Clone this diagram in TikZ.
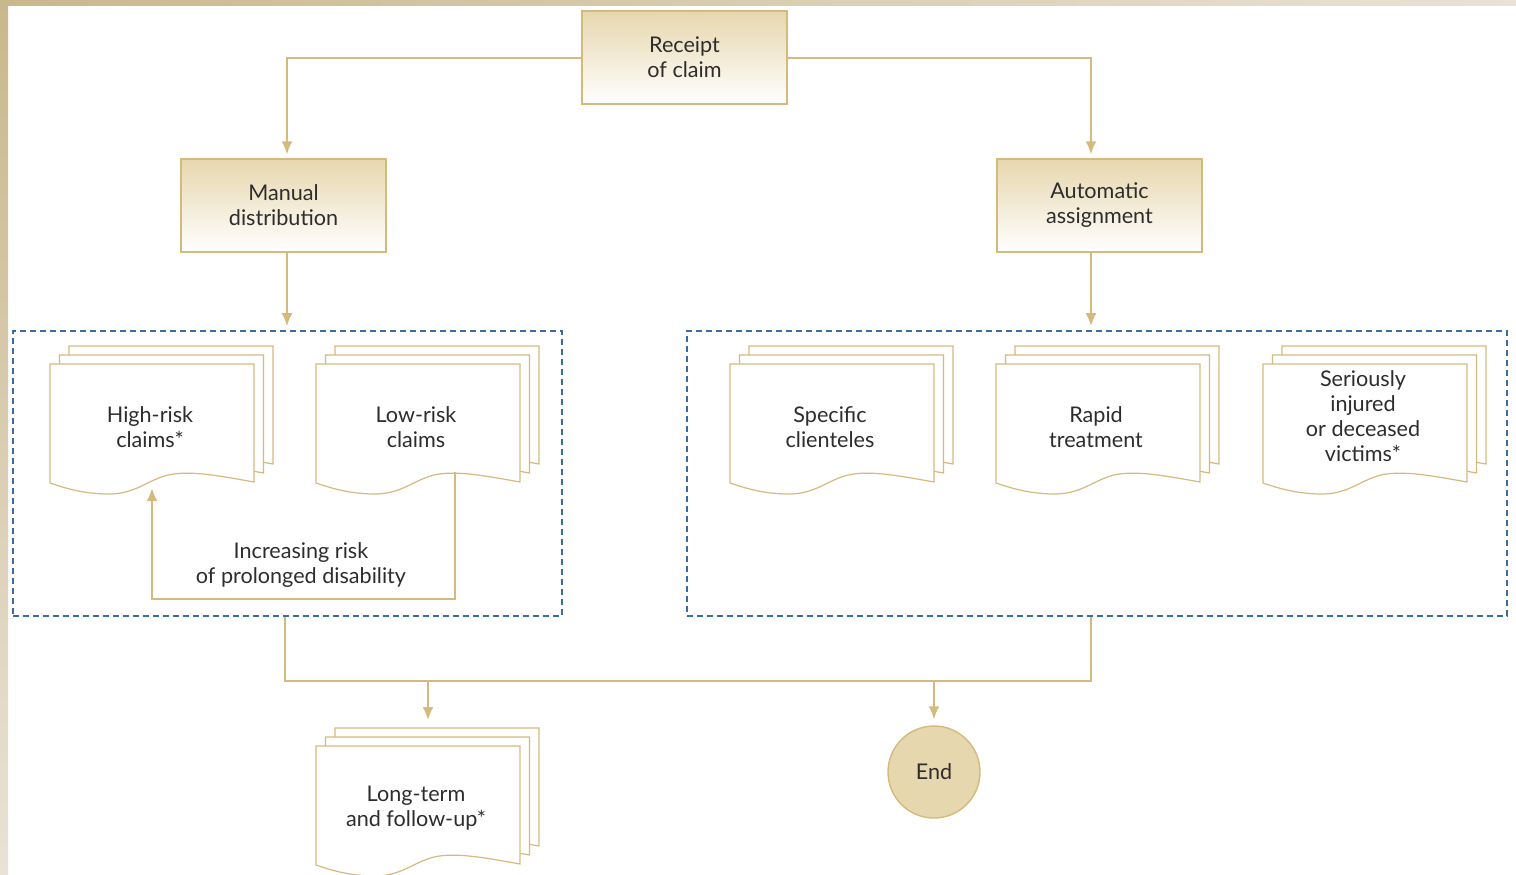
\documentclass[tikz,border=0pt]{standalone}
\usepackage{fontspec}
\setmainfont{Lato}
\usetikzlibrary{positioning,arrows.meta}
\definecolor{gold}{RGB}{212,186,125}
\definecolor{goldfill}{RGB}{231,215,174}
\definecolor{dashblue}{RGB}{58,108,163}
\definecolor{ink}{RGB}{45,45,45}
\definecolor{frameA}{RGB}{201,184,140}
\definecolor{frameB}{RGB}{233,226,214}
% stack of three sheets: name, x, y of front sheet, y of text, text
\newcommand\docstack[5]{%
	\foreach \dx/\dy in {19/-18,9.5/-9,0/0}
	\filldraw[doc,shift={(#2+\dx,#3+\dy)}] (0,0) -- (204,0) -- (204,118)
		.. controls (170,112) and (140,106) .. (118,111)
		.. controls (95,117) and (85,131) .. (55,130)
		.. controls (30,129) and (15,124) .. (0,119) -- cycle;
	\node[doctext] (#1) at (#2+100,#4) {#5};
	\coordinate (#1-top) at (#2+112,#3-18);
	\coordinate (#1-in) at (#2+102,#3+124);
	\coordinate (#1-out) at (#2+139,#3+108);
}
\begin{document}
\begin{tikzpicture}[x=0.5pt,y=-0.5pt,>={Latex[length=6.5pt,width=5.5pt]},
	every node/.style={font=\fontsize{10.8}{12.5}\selectfont,text=ink},
	box/.style={draw=gold,line width=0.7pt,top color=goldfill,bottom color=white,
		minimum width=102.5pt,minimum height=46.5pt,align=center,inner sep=0pt},
	group/.style={draw=dashblue,line width=0.8pt,dash pattern=on 3pt off 2pt,
		minimum width=#1,minimum height=142.5pt,inner sep=0pt},
	flow/.style={draw=gold,line width=1pt},
	doc/.style={draw=gold,fill=white,line width=0.6pt},
	doctext/.style={align=center,inner sep=0pt},
	terminal/.style={circle,draw=gold,fill=goldfill,line width=0.7pt,minimum size=46pt,inner sep=0pt}]
	\useasboundingbox (0,0) rectangle (1516,874);
	% frame
	\shade[left color=frameA,right color=frameB] (0,0) rectangle (1516,5);
	\shade[top color=frameA,bottom color=frameB] (0,0) rectangle (8,874);

	\node[box] (receipt) at (684.5,57.5) {Receipt\\of claim};
	\node[box] (manual) at (283.5,205.5) {Manual\\distribution};
	\node[box] (automatic) at (1099.5,205.5) {Automatic\\assignment};

	\node[group=274.5pt] (leftgrp) at (287.5,473.5) {};
	\node[group=410pt] (rightgrp) at (1097,473.5) {};

	\docstack{highrisk}{50}{364}{427}{High-risk\\claims*}
	\docstack{lowrisk}{316}{364}{427}{Low-risk\\claims}
	\docstack{clienteles}{730}{364}{427}{Specific\\clienteles}
	\docstack{rapid}{996}{364}{427}{Rapid\\treatment}
	\docstack{victims}{1263}{364}{416}{Seriously\\injured\\or deceased\\victims*}
	\docstack{longterm}{316}{746}{808.5}{Long-term\\and follow-up*}

	\node[terminal] (finish) at (934,772) {End};
	\node[doctext] (risklabel) at (301,565) {Increasing risk\\of prolonged disability};

	\coordinate (loop) at (300,599);
	\coordinate (merge) at (687,681);

	\draw[flow,->,shorten >=2pt] (receipt.west) -| ([xshift=1.75pt]manual.north);
	\draw[flow,->,shorten >=2pt] (receipt.east) -| ([xshift=-4.25pt]automatic.north);
	\draw[flow,->,shorten >=2pt] ([xshift=1.75pt]manual.south) -- ([xshift=1.75pt]manual.south |- leftgrp.north);
	\draw[flow,->,shorten >=2pt] ([xshift=-4.25pt]automatic.south) -- ([xshift=-4.25pt]automatic.south |- rightgrp.north);
	\draw[flow,->] (lowrisk-out) |- (loop) -| (highrisk-in);
	\draw[flow] ([xshift=-1.25pt]leftgrp.south) |- (merge) -| ([xshift=-3pt]rightgrp.south);
	\draw[flow,->,shorten >=4pt] (longterm-top |- merge) -- (longterm-top);
	\draw[flow,->,shorten >=3pt] (finish |- merge) -- (finish.north);
\end{tikzpicture}
\end{document}
